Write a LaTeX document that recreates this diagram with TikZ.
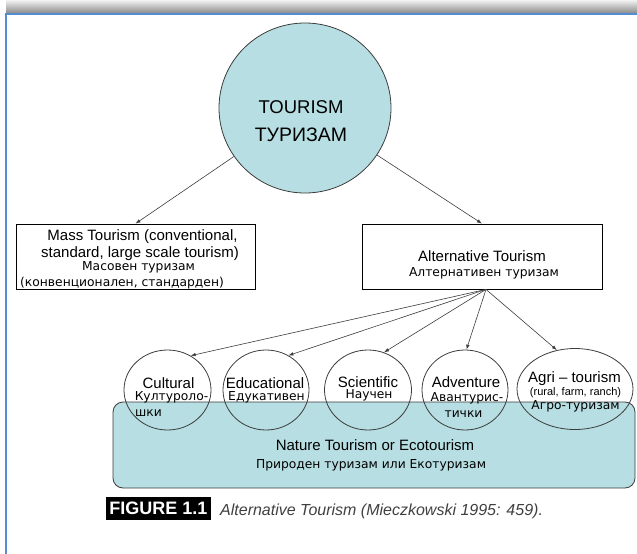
\documentclass[tikz,border=0pt]{standalone}
\usepackage{fontspec}
\setmainfont{Liberation Sans}
\newfontfamily\cyrfont{DejaVu Sans}
\usetikzlibrary{arrows.meta,shapes.geometric}
\definecolor{myteal}{RGB}{183,222,226}
\definecolor{myblue}{RGB}{84,141,212}
\definecolor{mygray}{RGB}{60,60,60}

\begin{document}
\begin{tikzpicture}[>={Latex[length=5pt,width=3.5pt]}, x=1pt, y=-1pt,
    bubble/.style={ellipse, draw=mygray, line width=0.8pt, inner sep=0pt},
    box/.style={rectangle, draw=black, line width=0.8pt, minimum width=239pt, minimum height=65pt, inner sep=0pt},
    en/.style={font=\fontsize{15}{18}\selectfont, inner sep=0pt, anchor=base},
    cy/.style={font=\cyrfont\fontsize{12.3}{15}\selectfont, inner sep=0pt, anchor=base},
    link/.style={->, draw=mygray, line width=0.6pt}]
			\useasboundingbox (0,0) rectangle (637,554);

			% Draw the frame and its shadow
			\shade[top color=black!5, bottom color=black!45] (6,0) rectangle (637,13);
			\draw[myblue, line width=2pt] (6,554) -- (6,14) -- (637,14);

			% Draw the main circle
			\node[bubble, fill=myteal, minimum width=172pt, minimum height=170pt] (tourism) at (305,108) {};
			\node[font=\fontsize{18.5}{22}\selectfont, inner sep=0pt, anchor=base] (tourismen) at (301,113) {TOURISM};
			\node[font=\fontsize{19.5}{22}\selectfont, inner sep=0pt, anchor=base] (tourismcy) at (301,141.5) {ТУРИЗАМ};

			% Draw the two boxes
			\node[box] (mass) at (135.5,256.5) {};
			\node[en] (massa) at (142.5,240) {Mass Tourism (conventional,};
			\node[en] (massb) at (140,257) {standard, large scale tourism)};
			\node[cy] (massc) at (138.5,270.5) {Масовен туризам};
			\node[cy] (massd) at (122,286) {(конвенционален, стандарден)};
			\node[box, minimum width=240pt] (alt) at (482,256.5) {};
			\node[en] (alta) at (482,261) {Alternative Tourism};
			\node[cy] (altb) at (484,276) {Алтернативен туризам};

			% Highlight the nature tourism area
			\node[rectangle, rounded corners=10pt, draw=mygray, line width=0.8pt, fill=myteal, minimum width=522pt, minimum height=86pt] (nature) at (374,445) {};
			\node[en] (naturea) at (375,450) {Nature Tourism or Ecotourism};
			\node[cy] (natureb) at (371,468) {Природен туризам или Екотуризам};

			% Draw the small circles
			\node[bubble, minimum width=87pt, minimum height=80pt] (cult) at (167.5,390) {};
			\node[bubble, minimum width=86pt, minimum height=80pt] (edu) at (266,390) {};
			\node[bubble, minimum width=87pt, minimum height=80pt] (sci) at (368,390) {};
			\node[bubble, minimum width=86pt, minimum height=80pt] (adv) at (465,390) {};
			\node[bubble, minimum width=116pt, minimum height=81pt] (agri) at (575,389) {};

			% Label the small circles
			\node[en] (culta) at (168.5,388) {Cultural};
			\node[cy] (cultb) at (171.5,400) {Културоло-};
			\node[cy, anchor=base west] (cultc) at (135,416) {шки};
			\node[en] (edua) at (265,388) {Educational};
			\node[cy] (edub) at (266.5,400) {Едукативен};
			\node[en] (scia) at (368,387) {Scientific};
			\node[cy] (scib) at (369,398) {Научен};
			\node[en] (adva) at (466,387) {Adventure};
			\node[cy] (advb) at (467,401) {Авантурис-};
			\node[cy] (advc) at (463.5,417) {тички};
			\node[en] (agria) at (574.5,382) {Agri -- tourism};
			\node[en, font=\fontsize{11}{13}\selectfont] (agrib) at (575.5,395) {(rural, farm, ranch)};
			\node[cy] (agric) at (575.5,409) {Агро-туризам};

			% Draw the connectors
			\draw[link] (tourism) -- (mass.north);
			\draw[link] (tourism) -- (alt.north);
			\draw[link] ([xshift=4pt]alt.south) -- (cult.56);
			\draw[link] ([xshift=4pt]alt.south) -- (edu.57);
			\draw[link] ([xshift=4pt]alt.south) -- (sci.67);
			\draw[link] ([xshift=4pt]alt.south) -- (adv.88);
			\draw[link] ([xshift=4pt]alt.south) -- (agri.115);

			% Put the caption
			\node[fill=black, text=white, font=\bfseries\fontsize{18}{20}\selectfont, minimum width=105pt, minimum height=23pt, inner sep=0pt] (figure) at (158.5,508.5) {FIGURE 1.1};
			\node[font=\itshape\fontsize{16}{18}\selectfont, text=black!75, inner sep=0pt, anchor=base west] (caption) at (220,515) {Alternative Tourism (Mieczkowski 1995: 459).};
\end{tikzpicture}
\end{document}
